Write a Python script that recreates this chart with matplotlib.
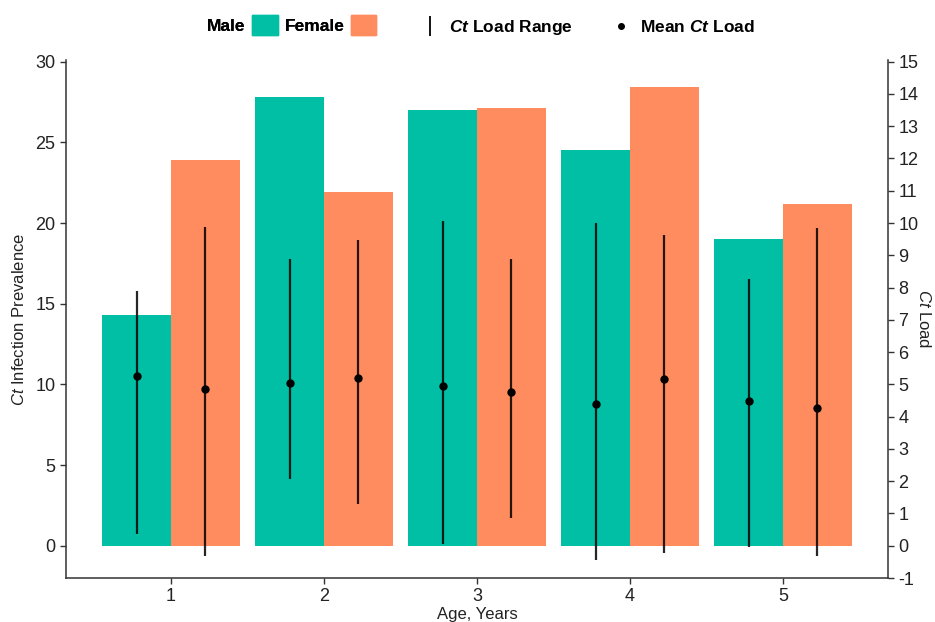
import matplotlib
matplotlib.use('Agg')
import matplotlib.pyplot as plt
import numpy as np
from matplotlib.patches import Patch
from matplotlib.lines import Line2D

plt.rcParams['font.family'] = ['Liberation Sans', 'DejaVu Sans']
plt.rcParams['axes.unicode_minus'] = False
plt.rcParams['mathtext.fontset'] = 'custom'
plt.rcParams['mathtext.rm'] = 'Liberation Sans'
plt.rcParams['mathtext.it'] = 'Liberation Sans:italic'
plt.rcParams['mathtext.bf'] = 'Liberation Sans:bold'
plt.rcParams['mathtext.bfit'] = 'Liberation Sans:italic:bold'

# data
ages = [1, 2, 3, 4, 5]
male_prev = [14.3, 27.8, 27.0, 24.5, 19.0]
female_prev = [23.9, 21.9, 27.15, 28.45, 21.2]

male_mean = [5.27, 5.05, 4.96, 4.40, 4.49]
male_lo = [0.37, 2.08, 0.06, -0.43, -0.05]
male_hi = [7.90, 8.89, 10.07, 10.00, 8.27]

female_mean = [4.87, 5.21, 4.77, 5.18, 4.28]
female_lo = [-0.31, 1.30, 0.87, -0.21, -0.33]
female_hi = [9.89, 9.48, 8.89, 9.64, 9.85]

teal = '#00BFA4'
orange = '#FF8C5E'
ink = '#222222'

x = np.array(ages)
w = 0.45

fig = plt.figure(figsize=(9.35, 6.22), dpi=100)
ax = fig.add_axes([0.0706, 0.0707, 0.8791, 0.8328])
ax2 = ax.twinx()

ax.bar(x - w / 2, male_prev, width=w, color=teal, zorder=1)
ax.bar(x + w / 2, female_prev, width=w, color=orange, zorder=1)

ax2.vlines(x - w / 2, male_lo, male_hi, color='black', alpha=0.85, lw=1.6)
ax2.vlines(x + w / 2, female_lo, female_hi, color='black', alpha=0.85, lw=1.6)
ax2.plot(x - w / 2, male_mean, 'o', color='black', ms=5, ls='none')
ax2.plot(x + w / 2, female_mean, 'o', color='black', ms=5, ls='none')

ax.set_xlim(0.314, 5.686)
ax.set_ylim(-2, 30.1)
ax2.set_ylim(-1, 15.05)
ax.set_xticks(ages)
ax.set_yticks(range(0, 31, 5))
ax2.set_yticks(range(-1, 16))

for a in (ax, ax2):
    a.spines['top'].set_visible(False)
    for s in a.spines.values():
        s.set_color('#333333')
        s.set_linewidth(1.1)
    a.tick_params(length=4, width=1, color='#333333', labelsize=13, labelcolor=ink)
ax.spines['right'].set_visible(False)
ax2.spines['left'].set_visible(False)
ax2.spines['bottom'].set_visible(False)

ax.set_ylabel(r'$\it{Ct}$ Infection Prevalence', fontsize=12, color=ink, labelpad=6)
ax2.set_ylabel(r'$\it{Ct}$ Load', fontsize=12, color=ink, rotation=-90, labelpad=10)
ax.set_xlabel('Age, Years', fontsize=12, color=ink, labelpad=1)

# legends across the top
h1 = [Patch(color=teal), Patch(color=orange)]
leg1 = fig.legend(h1, ['Male', 'Female'], ncol=2, frameon=False, markerfirst=False,
                  loc='center', bbox_to_anchor=(0.312, 0.96),
                  prop={'weight': 'bold', 'size': 12.5},
                  handlelength=1.45, handleheight=1.35, handletextpad=0.4,
                  columnspacing=0.4)
h2 = [Line2D([], [], color='black', marker='|', ms=15, mew=1.3, ls='none'),
      Line2D([], [], color='black', marker='o', ms=4, ls='none')]
leg2 = fig.legend(h2, [r'$\mathbfit{Ct}$ Load Range', r'Mean $\mathbfit{Ct}$ Load'],
                  ncol=2, frameon=False, loc='center', bbox_to_anchor=(0.629, 0.955),
                  prop={'weight': 'bold', 'size': 12.5},
                  handlelength=1.0, handletextpad=0.6, columnspacing=2.3)
fig.add_artist(leg1)

fig.savefig('out.png', dpi=100)
